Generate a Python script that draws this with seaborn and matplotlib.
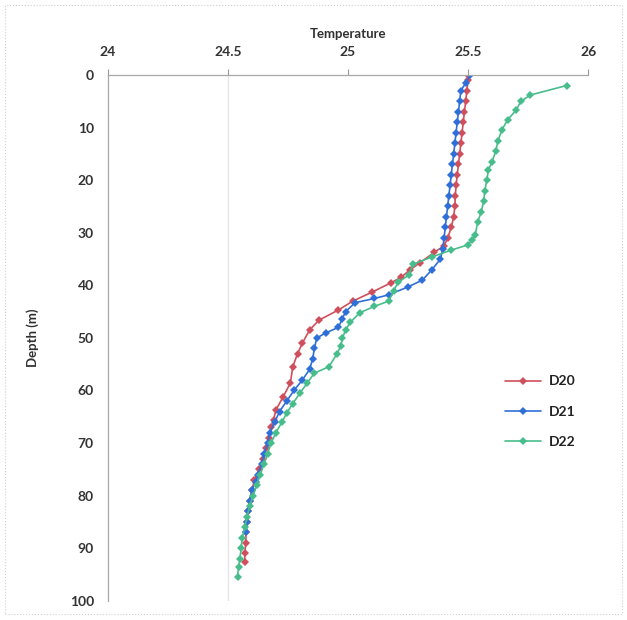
import matplotlib
matplotlib.use("Agg")
import matplotlib.pyplot as plt
import seaborn as sns
import pandas as pd
from matplotlib.patches import Rectangle

# ---- data ----
stations = ["D20", "D21", "D22"]

d20_depth = [0, 1, 3, 5, 7, 9, 11, 13, 15, 17, 19, 21, 23, 25, 27, 29, 31, 32.5, 33.7, 35.7,
             37, 38.5, 39.5, 41.3, 43, 44.7, 46.6, 48.5, 51, 53, 55.5, 58.6, 61.2, 63.7, 65.6,
             67, 69, 71, 73, 75, 77, 79, 81, 83, 85, 87, 89, 91, 92.6]
d20_temp = [25.50, 25.50, 25.495, 25.49, 25.485, 25.48, 25.475, 25.47, 25.465, 25.46, 25.455,
            25.45, 25.447, 25.445, 25.44, 25.43, 25.415, 25.40, 25.36, 25.30,
            25.26, 25.22, 25.18, 25.10, 25.02, 24.96, 24.88, 24.84, 24.81, 24.79, 24.77, 24.76,
            24.73, 24.70, 24.69, 24.68, 24.67, 24.66, 24.645, 24.63, 24.61, 24.60, 24.59,
            24.585, 24.58, 24.575, 24.575, 24.57, 24.57]

d21_depth = [0, 1.5, 3, 5, 7, 9, 11, 13, 15, 17, 19, 21, 23, 25, 27, 29, 31, 33, 35, 37, 39,
             40.3, 41.8, 42.5, 43.3, 45, 46.5, 48, 49, 50, 52, 54, 56, 58, 60, 62, 64, 66, 68,
             70, 72, 74, 76, 77.5, 79, 81, 83, 85, 87]
d21_temp = [25.51, 25.49, 25.47, 25.465, 25.46, 25.455, 25.45, 25.445, 25.44, 25.435, 25.43,
            25.425, 25.42, 25.415, 25.41, 25.405, 25.40, 25.395, 25.385, 25.35, 25.31,
            25.25, 25.17, 25.11, 25.03, 24.99, 24.975, 24.96, 24.91, 24.87, 24.86, 24.853,
            24.84, 24.81, 24.775, 24.745, 24.715, 24.695, 24.675, 24.665, 24.65, 24.64,
            24.625, 24.615, 24.60, 24.59, 24.585, 24.58, 24.575]

d22_depth = [2, 3.8, 5, 6.7, 8.5, 10.5, 12.5, 14.5, 16.5, 18, 20, 22, 24, 26, 28, 30.4, 31.4,
             32.3, 33.3, 34.6, 36, 38, 39.4, 41, 43, 44, 45.2, 47, 48.5, 50, 51.5, 53, 55.5,
             56.7, 58.6, 60.5, 62.5, 64.3, 66, 68, 70, 72, 74, 76, 78, 80, 82, 84, 86, 88, 90,
             92, 93.5, 95.4]
d22_temp = [25.91, 25.76, 25.72, 25.70, 25.665, 25.64, 25.625, 25.615, 25.60, 25.585, 25.578,
            25.57, 25.565, 25.555, 25.54, 25.53, 25.515, 25.50, 25.43, 25.35, 25.27, 25.255,
            25.21, 25.19, 25.17, 25.11, 25.05, 25.01, 24.99, 24.977, 24.97, 24.955, 24.92,
            24.86, 24.83, 24.80, 24.77, 24.745, 24.725, 24.70, 24.68, 24.665, 24.65, 24.635,
            24.62, 24.605, 24.59, 24.58, 24.57, 24.56, 24.555, 24.55, 24.545, 24.54]

x_ticks = [24, 24.5, 25, 25.5, 26]
x_tick_labels = ["24", "24.5", "25", "25.5", "26"]
y_ticks = [0, 10, 20, 30, 40, 50, 60, 70, 80, 90, 100]

colors = ["#cf4f5c", "#2f6fd8", "#48bd8c"]

df = pd.concat([
    pd.DataFrame({"Temperature": d20_temp, "Depth": d20_depth, "Station": stations[0]}),
    pd.DataFrame({"Temperature": d21_temp, "Depth": d21_depth, "Station": stations[1]}),
    pd.DataFrame({"Temperature": d22_temp, "Depth": d22_depth, "Station": stations[2]}),
], ignore_index=True)

sns.set_style("white")
plt.rcParams["font.family"] = ["Lato", "DejaVu Sans"]

fig = plt.figure(figsize=(6.27, 6.2), dpi=100)
ax = fig.add_axes([0.172, 0.031, 0.766, 0.848])

ax.axvline(24.5, color="#e6e6e6", lw=1.0, zorder=0)

sns.lineplot(data=df, x="Temperature", y="Depth", hue="Station", sort=False,
             estimator=None, palette=colors, marker="D", markersize=3.6,
             markeredgewidth=0, linewidth=1.2, ax=ax)

ax.set_xlim(24, 26)
ax.set_ylim(100, 0)
ax.set_xticks(x_ticks)
ax.set_xticklabels(x_tick_labels)
ax.set_yticks(y_ticks)
ax.xaxis.tick_top()
ax.xaxis.set_label_position("top")
ax.set_xlabel("Temperature", fontsize=9.5, fontweight="bold", color="#303030", labelpad=6)
ax.set_ylabel("Depth (m)", fontsize=9.5, fontweight="bold", color="#303030", labelpad=22)
ax.tick_params(axis="both", labelsize=10, colors="#999999", labelcolor="#333333",
               direction="out", length=4, width=0.8)
ax.tick_params(axis="x", pad=8)
ax.tick_params(axis="y", pad=6)
for lbl in ax.get_xticklabels() + ax.get_yticklabels():
    lbl.set_fontweight("bold")

for s in ["right", "bottom"]:
    ax.spines[s].set_visible(False)
for s in ["left", "top"]:
    ax.spines[s].set_color("#a8a8a8")
    ax.spines[s].set_linewidth(0.9)

leg = ax.legend(loc="center left", bbox_to_anchor=(0.8, 0.36), frameon=False,
                fontsize=10, handlelength=2.6, handletextpad=0.6, labelspacing=1.3,
                title=None)
for t in leg.get_texts():
    t.set_fontweight("bold")
    t.set_color("#222222")

fig.patches.append(Rectangle((0.008, 0.01), 0.984, 0.982, transform=fig.transFigure,
                             fill=False, edgecolor="#d0d0d0", lw=0.8, ls=":"))

fig.savefig("out.png", dpi=100, facecolor="white")
